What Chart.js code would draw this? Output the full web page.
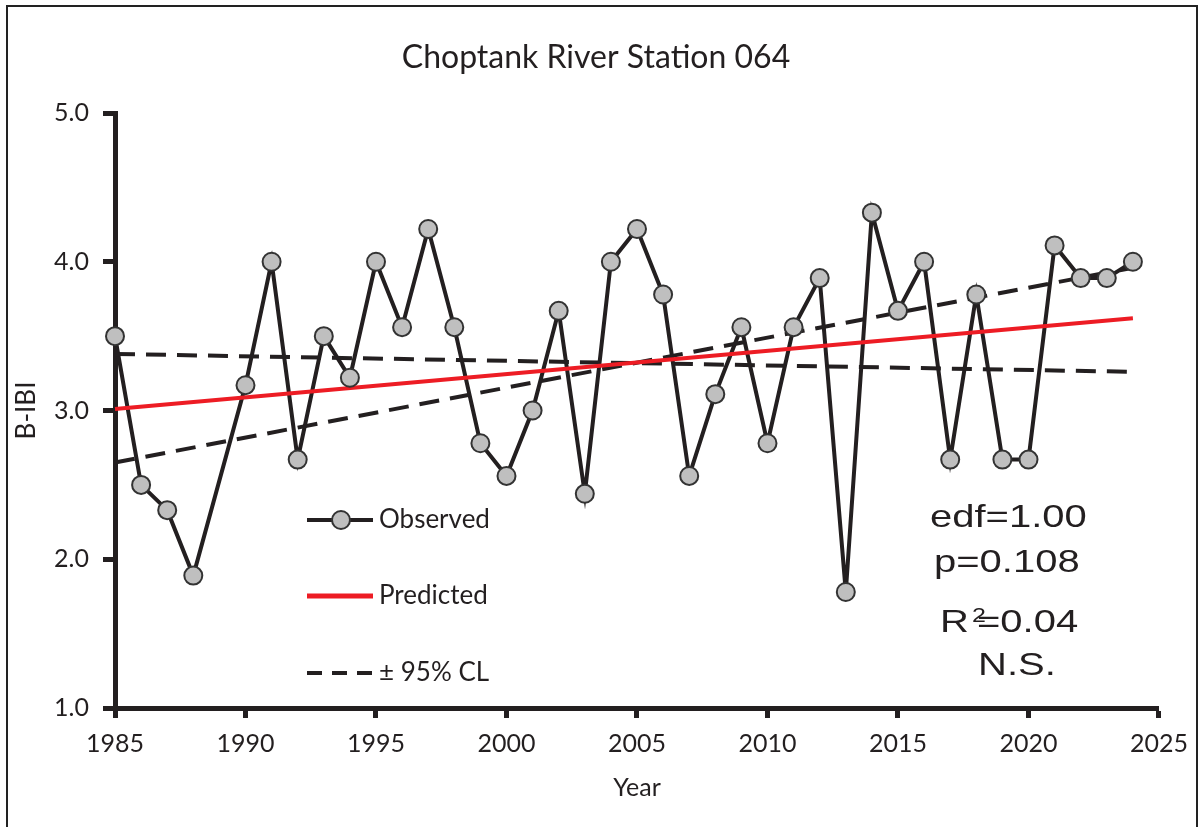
<!DOCTYPE html>
<html>
<head>
<meta charset="utf-8">
<title>Choptank River Station 064</title>
<script src="https://cdn.jsdelivr.net/npm/chart.js@4.4.1/dist/chart.umd.min.js"></script>
<style>
  html, body { margin: 0; padding: 0; background: #fff; }
</style>
</head>
<body>
<canvas id="chart" width="1199" height="827"></canvas>
<script>
// observed B-IBI by year (no sample in 1989)
const years = [1985, 1986, 1987, 1988, 1990, 1991, 1992, 1993, 1994, 1995, 1996, 1997, 1998, 1999,
  2000, 2001, 2002, 2003, 2004, 2005, 2006, 2007, 2008, 2009, 2010, 2011, 2012, 2013, 2014,
  2015, 2016, 2017, 2018, 2019, 2020, 2021, 2022, 2023, 2024];
const observed = [3.50, 2.50, 2.33, 1.89, 3.17, 4.00, 2.67, 3.50, 3.22, 4.00, 3.56, 4.22, 3.56, 2.78,
  2.56, 3.00, 3.67, 2.44, 4.00, 4.22, 3.78, 2.56, 3.11, 3.56, 2.78, 3.56, 3.89, 1.78, 4.33,
  3.67, 4.00, 2.67, 3.78, 2.67, 2.67, 4.11, 3.89, 3.89, 4.00];

// trend line and confidence limits, start and end of the fit
const fitYears = [1985, 2024];
const predicted = [3.01, 3.62];
const clFlat = [3.38, 3.26];
const clRising = [2.65, 3.96];

const yearTicks = [1985, 1990, 1995, 2000, 2005, 2010, 2015, 2020, 2025];
const ibiTicks = [1.0, 2.0, 3.0, 4.0, 5.0];

const titleText = "Choptank River Station 064";
const stats = { edf: "1.00", p: "0.108", r2: "0.04", sig: "N.S." };

const ink = "#231f20";
const red = "#ed1c24";
const calibri = "Lato, 'Open Sans', sans-serif";
const arial = "'Liberation Sans', Arial, sans-serif";

const pts = (xs, ys) => xs.map((x, i) => ({ x: x, y: ys[i] }));

// white page, thin frame round the figure, title a bit right of centre like the source
const framePlugin = {
  id: "frame",
  beforeDraw(chart) {
    const ctx = chart.ctx;
    ctx.save();
    ctx.fillStyle = "#fff";
    ctx.fillRect(0, 0, chart.width, chart.height);
    ctx.strokeStyle = "#222";
    ctx.lineWidth = 2;
    ctx.strokeRect(7, 6, 1190, 900);
    ctx.fillStyle = ink;
    ctx.font = "32px " + calibri;
    ctx.textAlign = "center";
    ctx.textBaseline = "alphabetic";
    ctx.fillText(titleText, 596, 68);
    ctx.restore();
  }
};

// hand placed legend and fit stats, like the original figure
const notesPlugin = {
  id: "notes",
  afterDraw(chart) {
    const ctx = chart.ctx;
    ctx.save();
    ctx.lineCap = "butt";

    // Observed
    ctx.strokeStyle = ink;
    ctx.lineWidth = 4;
    ctx.beginPath(); ctx.moveTo(307, 520); ctx.lineTo(373, 520); ctx.stroke();
    ctx.fillStyle = "#bfbfbf";
    ctx.strokeStyle = "#333";
    ctx.lineWidth = 2;
    ctx.beginPath(); ctx.arc(341, 520, 9, 0, Math.PI * 2); ctx.fill(); ctx.stroke();

    // Predicted
    ctx.strokeStyle = red;
    ctx.lineWidth = 5;
    ctx.beginPath(); ctx.moveTo(307, 596); ctx.lineTo(373, 596); ctx.stroke();

    // CL
    ctx.strokeStyle = ink;
    ctx.lineWidth = 4;
    ctx.setLineDash([15, 10]);
    ctx.beginPath(); ctx.moveTo(307, 673); ctx.lineTo(373, 673); ctx.stroke();
    ctx.setLineDash([]);

    ctx.fillStyle = ink;
    ctx.font = "26px " + calibri;
    ctx.textBaseline = "middle";
    ctx.textAlign = "left";
    ctx.fillText("Observed", 379, 520);
    ctx.fillText("Predicted", 379, 596);
    ctx.fillText("\u00b1 95% CL", 379, 673);

    // stats, the source text is stretched sideways
    const line = (txt, x, y, size) => {
      ctx.save();
      ctx.translate(x, y);
      ctx.scale(1.25, 1);
      ctx.font = size + "px " + arial;
      ctx.textBaseline = "alphabetic";
      ctx.fillText(txt, 0, 0);
      ctx.restore();
    };
    line("edf=" + stats.edf, 930, 527, 32);
    line("p=" + stats.p, 934, 572, 32);
    line("R", 940, 632, 32);
    line("=" + stats.r2, 977, 632, 32);
    line("2", 972, 622, 20);
    line(stats.sig, 978, 675, 32);
    ctx.restore();
  }
};

new Chart(document.getElementById("chart"), {
  type: "line",
  plugins: [framePlugin, notesPlugin],
  data: {
    datasets: [
      {
        label: "Observed markers",
        data: pts(years, observed),
        showLine: false,
        pointRadius: 9,
        pointBackgroundColor: "#bfbfbf",
        pointBorderColor: "#333",
        pointBorderWidth: 2,
        clip: false,
        order: 0
      },
      {
        label: "Predicted",
        data: pts(fitYears, predicted),
        borderColor: red,
        borderWidth: 4,
        pointRadius: 0,
        clip: false,
        order: 1
      },
      {
        label: "95% CL",
        data: pts(fitYears, clFlat),
        borderColor: ink,
        borderWidth: 4,
        borderDash: [20, 11],
        pointRadius: 0,
        clip: false,
        order: 2
      },
      {
        label: "95% CL rising",
        data: pts(fitYears, clRising),
        borderColor: ink,
        borderWidth: 4,
        borderDash: [20, 11],
        pointRadius: 0,
        clip: false,
        order: 2
      },
      {
        label: "Observed",
        data: pts(years, observed),
        borderColor: ink,
        borderWidth: 4,
        pointRadius: 0,
        tension: 0,
        clip: false,
        order: 3
      }
    ]
  },
  options: {
    responsive: false,
    animation: false,
    layout: { padding: { left: 0, right: 40, top: 113, bottom: 0 } },
    plugins: {
      legend: { display: false },
      tooltip: { enabled: false },
      title: { display: false }
    },
    scales: {
      x: {
        type: "linear",
        min: 1985,
        max: 2025,
        afterBuildTicks: (s) => { s.ticks = yearTicks.map(v => ({ value: v })); },
        afterFit: (s) => { s.height = 119; },
        ticks: {
          color: ink,
          font: { family: calibri, size: 25 },
          padding: 11,
          maxRotation: 0,
          callback: (v) => String(v)
        },
        grid: {
          drawOnChartArea: false,
          drawTicks: true,
          tickLength: 10,
          tickWidth: 5,
          tickColor: ink
        },
        border: { display: true, color: ink, width: 5 },
        title: {
          display: true,
          text: "Year",
          color: ink,
          font: { family: calibri, size: 25 },
          padding: { top: 0, bottom: 24 }
        }
      },
      y: {
        min: 1,
        max: 5,
        afterBuildTicks: (s) => { s.ticks = ibiTicks.map(v => ({ value: v })); },
        afterFit: (s) => { s.width = 115; },
        ticks: {
          color: ink,
          font: { family: calibri, size: 25 },
          padding: 14,
          callback: (v) => v.toFixed(1)
        },
        grid: {
          drawOnChartArea: false,
          drawTicks: true,
          tickLength: 12,
          tickWidth: 5,
          tickColor: ink
        },
        border: { display: true, color: ink, width: 5 },
        title: {
          display: true,
          text: "B-IBI",
          color: ink,
          font: { family: calibri, size: 26 },
          padding: { top: 11, bottom: 0 }
        }
      }
    }
  }
});
</script>
</body>
</html>
